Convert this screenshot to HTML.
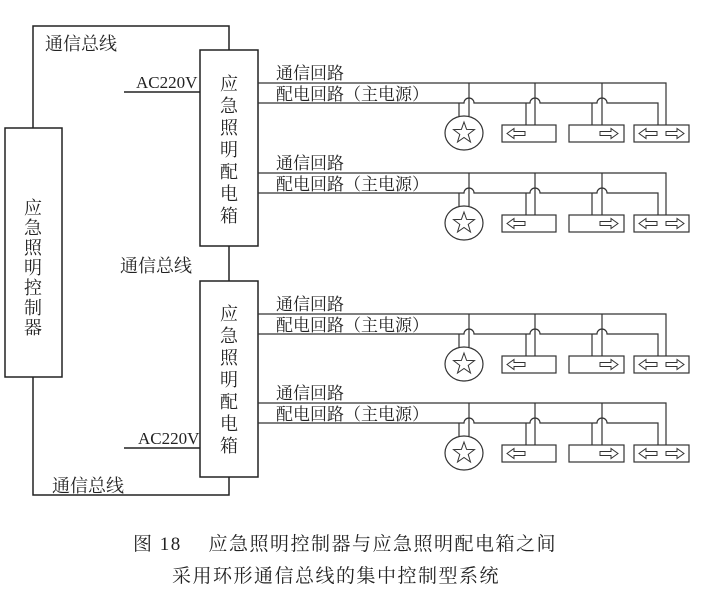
<!DOCTYPE html>
<html><head><meta charset="utf-8"><style>
html,body{margin:0;padding:0;background:#fff;}
svg{display:block;}
text{font-family:"Liberation Serif","Noto Serif CJK SC","Noto Sans CJK SC",serif;fill:#222;}
</style></head><body>
<svg width="704" height="594" viewBox="0 0 704 594" xmlns="http://www.w3.org/2000/svg">
<defs>
<polygon id="al" points="0,0 7,-5 7,-2 18,-2 18,2 7,2 7,5" fill="none" stroke="#333" stroke-width="1"/>
<polygon id="ar" points="18,0 11,-5 11,-2 0,-2 0,2 11,2 11,5" fill="none" stroke="#333" stroke-width="1"/>
<g id="br" fill="none" stroke="#333" stroke-width="1.2">
<path d="M258,0 H666 V42"/>
<path d="M258,20 H464 A5,5 0 0 1 474,20 H530 A5,5 0 0 1 540,20 H597 A5,5 0 0 1 607,20 H658 V42"/>
<path d="M469,0 V33 M459,20 V34 M535,0 V42 M526,20 V42 M602,0 V42 M592,20 V42"/>
<ellipse cx="464" cy="50" rx="19" ry="17"/>
<polygon points="464,39 466.6,46.4 474.5,46.6 468.2,51.4 470.5,59 464,54.5 457.5,59 459.8,51.4 453.5,46.6 461.4,46.4" stroke-width="1"/>
<rect x="502" y="42" width="54" height="17"/>
<rect x="569" y="42" width="55" height="17"/>
<rect x="634" y="42" width="55" height="17"/>
<use href="#al" x="507" y="50.5"/>
<use href="#ar" x="600" y="50.5"/>
<use href="#al" x="639" y="50.5"/>
<use href="#ar" x="666" y="50.5"/>
</g>
</defs>
<g fill="none" stroke="#222" stroke-width="1.5">
<rect x="5" y="128" width="57" height="249"/>
<rect x="200" y="50" width="58" height="196"/>
<rect x="200" y="281" width="58" height="196"/>
<path d="M33,128 V26 H229 V50"/>
<path d="M229,246 V281"/>
<path d="M33,377 V495 H229 V477"/>
<path d="M124,92 H200 M124,448 H200"/>
</g>
<use href="#br" y="83"/>
<use href="#br" y="173"/>
<use href="#br" y="314"/>
<use href="#br" y="403"/>
<g font-size="17">
<text x="276" y="79">通信回路</text><text x="276" y="100">配电回路（主电源）</text>
<text x="276" y="169">通信回路</text><text x="276" y="190">配电回路（主电源）</text>
<text x="276" y="310">通信回路</text><text x="276" y="331">配电回路（主电源）</text>
<text x="276" y="399">通信回路</text><text x="276" y="420">配电回路（主电源）</text>
<text x="45" y="50" font-size="18">通信总线</text>
<text x="120" y="272" font-size="18">通信总线</text>
<text x="52" y="492" font-size="18">通信总线</text>
<text x="136" y="88" font-size="17">AC220V</text>
<text x="138" y="444" font-size="17">AC220V</text>
</g>
<g font-size="18" text-anchor="middle">
<text x="33" y="214">应</text><text x="33" y="234">急</text><text x="33" y="254">照</text><text x="33" y="274">明</text><text x="33" y="294">控</text><text x="33" y="314">制</text><text x="33" y="334">器</text>
<text x="229" y="90">应</text><text x="229" y="112">急</text><text x="229" y="134">照</text><text x="229" y="156">明</text><text x="229" y="178">配</text><text x="229" y="200">电</text><text x="229" y="222">箱</text>
<text x="229" y="320">应</text><text x="229" y="342">急</text><text x="229" y="364">照</text><text x="229" y="386">明</text><text x="229" y="408">配</text><text x="229" y="430">电</text><text x="229" y="452">箱</text>
</g>
<g font-size="19" letter-spacing="1.5">
<text x="133" y="550">图 18　 应急照明控制器与应急照明配电箱之间</text>
<text x="172" y="582">采用环形通信总线的集中控制型系统</text>
</g>
</svg>
</body></html>
